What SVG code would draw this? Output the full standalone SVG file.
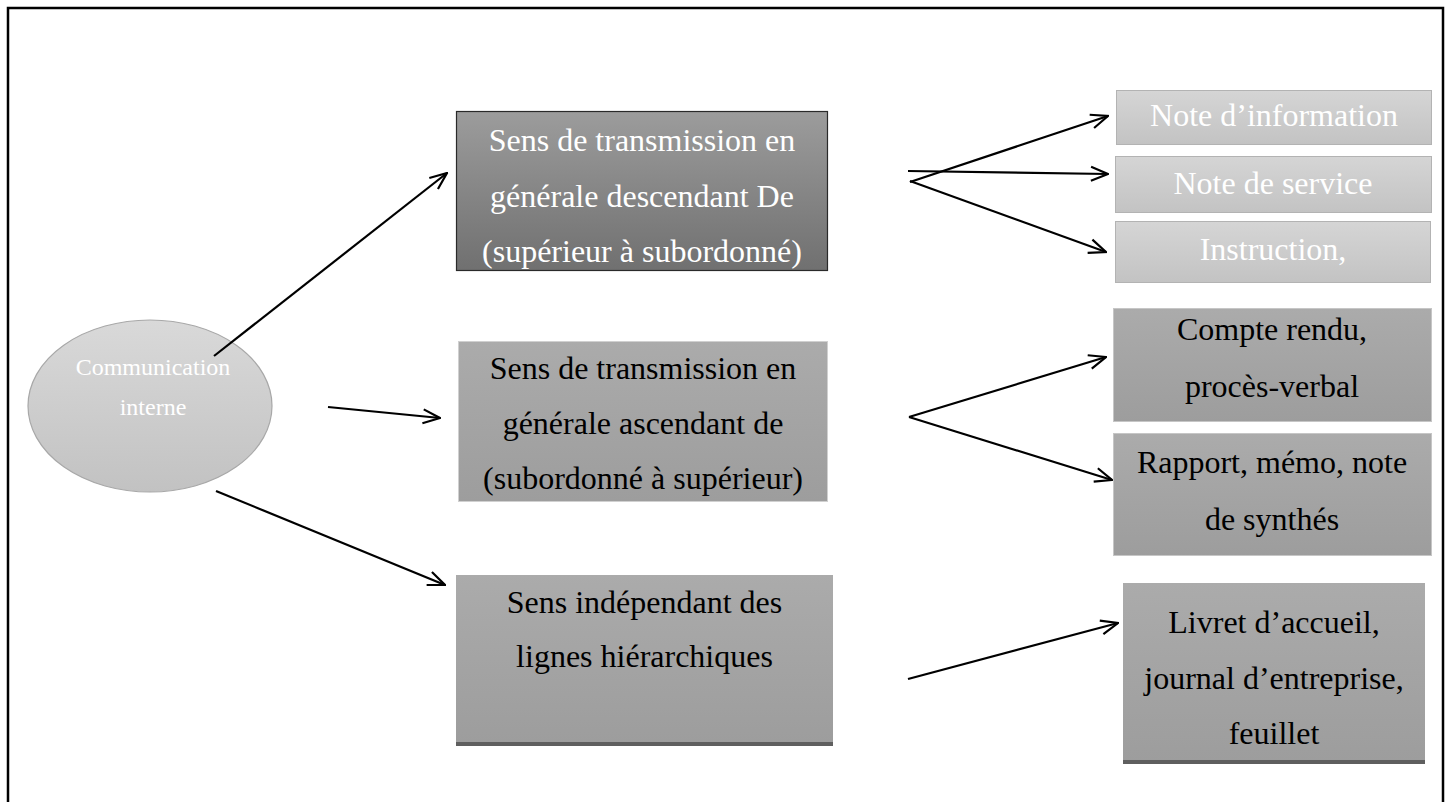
<svg xmlns="http://www.w3.org/2000/svg" width="1451" height="802" viewBox="0 0 1451 802">
<style>
text{font-family:"Liberation Serif","Times New Roman",serif;font-size:32px;text-anchor:middle}
.w{fill:#ffffff}
.b{fill:#000000}
.conn line{stroke:#000;stroke-width:2.2;marker-end:url(#arr)}
</style>
<defs>
<linearGradient id="gDark" x1="0" y1="0" x2="0" y2="1"><stop offset="0" stop-color="#9c9c9c"/><stop offset="1" stop-color="#707070"/></linearGradient>
<linearGradient id="gMid" x1="0" y1="0" x2="0" y2="1"><stop offset="0" stop-color="#ababab"/><stop offset="1" stop-color="#9d9d9d"/></linearGradient>
<linearGradient id="gLight" x1="0" y1="0" x2="0" y2="1"><stop offset="0" stop-color="#d5d5d5"/><stop offset="1" stop-color="#c3c3c3"/></linearGradient>
<linearGradient id="gEll" x1="0" y1="0" x2="0" y2="1"><stop offset="0" stop-color="#d9d9d9"/><stop offset="1" stop-color="#c2c2c2"/></linearGradient>
<marker id="arr" viewBox="0 0 20 20" refX="19" refY="10" markerWidth="20" markerHeight="20" markerUnits="userSpaceOnUse" orient="auto">
<path d="M2,3 L19,10 L2,17" fill="none" stroke="#000" stroke-width="2.2"/>
</marker>
</defs>
<rect x="0" y="0" width="1451" height="802" fill="#ffffff"/>
<rect x="8" y="8" width="1435" height="810" fill="none" stroke="#000" stroke-width="2.5"/>

<g id="n-comm">
<ellipse cx="150" cy="406" rx="122" ry="86" fill="url(#gEll)" stroke="#a8a8a8" stroke-width="1.2"/>
<text class="w" x="153" y="375" style="font-size:24px">Communication</text>
<text class="w" x="153" y="415" style="font-size:24px">interne</text>
</g>

<g id="n-desc">
<rect x="456.5" y="111.5" width="371" height="159" fill="url(#gDark)" stroke="#2a2a2a" stroke-width="1.2"/>
<text class="w" x="642" y="151">Sens de transmission en</text>
<text class="w" x="642" y="207">générale descendant De</text>
<text class="w" x="642" y="262">(supérieur à subordonné)</text>
</g>

<g id="n-asc">
<rect x="458.5" y="341.5" width="369" height="160" fill="url(#gMid)" stroke="#d0d0d0" stroke-width="1"/>
<text class="b" x="643" y="379">Sens de transmission en</text>
<text class="b" x="643" y="434">générale ascendant de</text>
<text class="b" x="643" y="489">(subordonné à supérieur)</text>
</g>

<g id="n-indep">
<rect x="456" y="575" width="377" height="168" fill="url(#gMid)"/>
<rect x="456" y="742" width="377" height="4" fill="#5f5f5f"/>
<text class="b" x="644.5" y="613">Sens indépendant des</text>
<text class="b" x="644.5" y="667">lignes hiérarchiques</text>
</g>

<g id="n-info">
<rect x="1116.5" y="90.5" width="315" height="54" fill="url(#gLight)" stroke="#b3b3b3" stroke-width="1"/>
<text class="w" x="1274" y="126">Note d’information</text>
</g>

<g id="n-service">
<rect x="1115.5" y="156.5" width="316" height="56" fill="url(#gLight)" stroke="#b3b3b3" stroke-width="1"/>
<text class="w" x="1273" y="194">Note de service</text>
</g>

<g id="n-instr">
<rect x="1115.5" y="221.5" width="315" height="61" fill="url(#gLight)" stroke="#b3b3b3" stroke-width="1"/>
<text class="w" x="1273" y="260">Instruction,</text>
</g>

<g id="n-compte">
<rect x="1113.5" y="308.5" width="318" height="113" fill="url(#gMid)" stroke="#c6c6c6" stroke-width="1"/>
<text class="b" x="1272" y="340">Compte rendu,</text>
<text class="b" x="1272" y="397">procès-verbal</text>
</g>

<g id="n-rapport">
<rect x="1113.5" y="433.5" width="318" height="122" fill="url(#gMid)" stroke="#c6c6c6" stroke-width="1"/>
<text class="b" x="1272" y="473">Rapport, mémo, note</text>
<text class="b" x="1272" y="530">de synthés</text>
</g>

<g id="n-livret">
<rect x="1123" y="583" width="302" height="178" fill="url(#gMid)"/>
<rect x="1123" y="760" width="302" height="4" fill="#5f5f5f"/>
<text class="b" x="1274" y="633">Livret d’accueil,</text>
<text class="b" x="1274" y="689">journal d’entreprise,</text>
<text class="b" x="1274" y="744">feuillet</text>
</g>

<g id="connectors" class="conn">
<line x1="214" y1="356" x2="447" y2="173"/>
<line x1="328" y1="407" x2="440" y2="418"/>
<line x1="216" y1="491" x2="445" y2="585"/>
<line x1="910" y1="182" x2="1108" y2="116"/>
<line x1="908" y1="171" x2="1108" y2="174"/>
<line x1="910" y1="181" x2="1106" y2="252"/>
<line x1="909" y1="417" x2="1106" y2="357"/>
<line x1="909" y1="417" x2="1112" y2="480"/>
<line x1="908" y1="679" x2="1118" y2="623"/>
</g>
</svg>
